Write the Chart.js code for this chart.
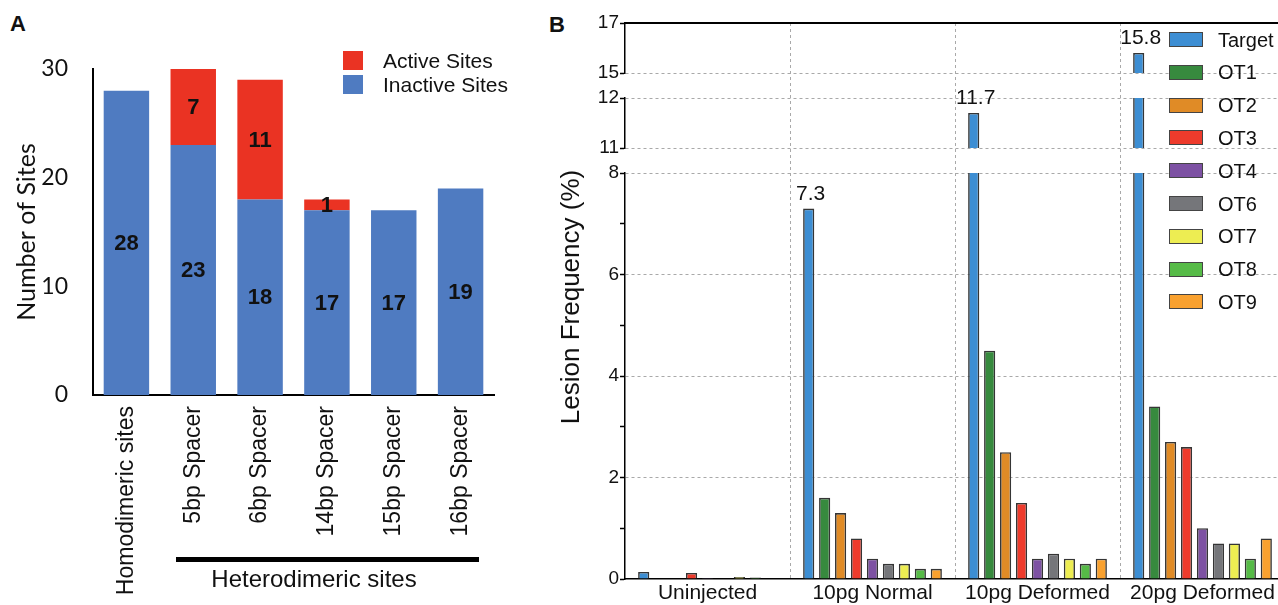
<!DOCTYPE html>
<html>
<head>
<meta charset="utf-8">
<title>Sites and lesion frequency</title>
<script src="https://cdn.jsdelivr.net/npm/chart.js@4.4.1/dist/chart.umd.min.js"></script>
<style>
  html, body { margin: 0; padding: 0; background: #fff; overflow: hidden; }
  body { width: 1278px; height: 605px; position: relative; font-family: "Liberation Sans", Arial, sans-serif; color: #111; }
  canvas { position: absolute; top: 0; }
  .panel-label { position: absolute; font-weight: bold; font-size: 22px; line-height: 22px; }
  .legend-row { position: absolute; height: 24px; line-height: 24px; white-space: nowrap; }
  .legend-box { position: absolute; box-sizing: border-box; }
  #hetBar { position: absolute; left: 176px; top: 557px; width: 303px; height: 5px; background: #000; }
  #hetLabel { position: absolute; left: 164px; top: 567px; width: 300px; text-align: center; font-size: 24px; line-height: 24px; }
  #lesionTitle { position: absolute; left: 420px; top: 282px; width: 300px; text-align: center; font-size: 26px; line-height: 30px; transform: rotate(-90deg); white-space: nowrap; }
</style>
</head>
<body>
<div class="panel-label" style="left:10px;top:13px">A</div>
<div class="panel-label" style="left:549px;top:14px">B</div>

<canvas id="sitesChart" width="540" height="605" style="left:0"></canvas>
<div id="sitesLegend"></div>
<div id="hetBar"></div>
<div id="hetLabel">Heterodimeric sites</div>

<canvas id="lesionLower" width="745" height="605" style="left:540px"></canvas>
<canvas id="lesionMiddle" width="745" height="605" style="left:540px"></canvas>
<canvas id="lesionUpper" width="745" height="605" style="left:540px"></canvas>
<div id="lesionTitle">Lesion Frequency (%)</div>
<div id="lesionLegend"></div>

<script>
// ---- panel A data ----
const siteCategories = ['Homodimeric sites', '5bp Spacer', '6bp Spacer', '14bp Spacer', '15bp Spacer', '16bp Spacer'];
const inactiveSites = [28, 23, 18, 17, 17, 19];
const activeSites = [0, 7, 11, 1, 0, 0];
const siteTicks = [0, 10, 20, 30];

// ---- panel B data ----
const lesionGroups = ['Uninjected', '10pg Normal', '10pg Deformed', '20pg Deformed'];
const seriesNames = ['Target', 'OT1', 'OT2', 'OT3', 'OT4', 'OT6', 'OT7', 'OT8', 'OT9'];
const targetFreq = [0.14, 7.3, 11.7, 15.8];
const ot1Freq = [0, 1.6, 4.5, 3.4];
const ot2Freq = [0, 1.3, 2.5, 2.7];
const ot3Freq = [0.12, 0.8, 1.5, 2.6];
const ot4Freq = [0.02, 0.4, 0.4, 1.0];
const ot6Freq = [0, 0.3, 0.5, 0.7];
const ot7Freq = [0.04, 0.3, 0.4, 0.7];
const ot8Freq = [0.03, 0.2, 0.3, 0.4];
const ot9Freq = [0, 0.2, 0.4, 0.8];
const seriesColors = ['#3d8ed3', '#378a3e', '#e08b26', '#ee3b2c', '#7d51a3', '#75767a', '#eded52', '#56bb47', '#f9a12f'];

// broken y axis: labelled ticks of the three pieces
const lowerTicks = [0, 2, 4, 6, 8];
const middleTicks = [11, 12];
const upperTicks = [15, 17];

const allSeries = [targetFreq, ot1Freq, ot2Freq, ot3Freq, ot4Freq, ot6Freq, ot7Freq, ot8Freq, ot9Freq];
const labelFrom = 5; // only the big target bars get a number on top
const sans = '"Liberation Sans", Arial, sans-serif';

// ================= Panel A =================
const segmentLabels = {
  id: 'segmentLabels',
  afterDatasetsDraw(chart) {
    const ctx = chart.ctx;
    ctx.save();
    ctx.font = 'bold 22px ' + sans;
    ctx.fillStyle = '#111';
    ctx.textAlign = 'center';
    ctx.textBaseline = 'middle';
    chart.data.datasets.forEach((ds, di) => {
      chart.getDatasetMeta(di).data.forEach((bar, i) => {
        const v = ds.data[i];
        if (!v) return;
        ctx.fillText(String(v), bar.x, (bar.y + bar.base) / 2 + 1);
      });
    });
    ctx.restore();
  }
};

new Chart(document.getElementById('sitesChart'), {
  type: 'bar',
  data: {
    labels: siteCategories,
    datasets: [
      { label: 'Inactive Sites', data: inactiveSites, backgroundColor: '#4f7bc1', borderWidth: 0 },
      { label: 'Active Sites', data: activeSites, backgroundColor: '#ea3323', borderWidth: 0 }
    ]
  },
  options: {
    responsive: false,
    animation: false,
    layout: { autoPadding: false, padding: { left: 0, top: 69, right: 46, bottom: 0 } },
    datasets: { bar: { categoryPercentage: 1.0, barPercentage: 0.68 } },
    plugins: { legend: { display: false }, tooltip: { enabled: false } },
    scales: {
      x: {
        stacked: true,
        offset: true,
        grid: { display: false, drawTicks: false, tickLength: 0 },
        border: { color: '#000', width: 2 },
        ticks: { color: '#111', font: { family: sans, size: 23 }, minRotation: 90, maxRotation: 90, padding: 11, autoSkip: false },
        afterFit: s => { s.height = 210; }
      },
      y: {
        stacked: true,
        min: siteTicks[0],
        max: siteTicks[siteTicks.length - 1],
        afterBuildTicks: s => { s.ticks = siteTicks.map(v => ({ value: v })); },
        grid: { display: false, drawTicks: false, tickLength: 0 },
        border: { color: '#000', width: 2 },
        ticks: { color: '#111', font: { family: 'Lato', size: 23 }, padding: 25 },
        title: { display: true, text: 'Number of Sites', color: '#111', font: { family: 'Lato', size: 25 }, padding: { top: 12, bottom: 0 } },
        afterFit: s => { s.width = 93; }
      }
    }
  },
  plugins: [segmentLabels]
});

// legend for panel A (Active first, like the figure)
const sitesLegend = document.getElementById('sitesLegend');
[['Active Sites', '#ea3323', 51], ['Inactive Sites', '#4f7bc1', 75]].forEach(([name, color, top]) => {
  const box = document.createElement('div');
  box.className = 'legend-box';
  box.style.cssText = `left:343px;top:${top}px;width:20px;height:19px;background:${color}`;
  sitesLegend.appendChild(box);
  const txt = document.createElement('div');
  txt.className = 'legend-row';
  txt.style.cssText = `left:383px;top:${top - 2}px;font-size:21px`;
  txt.textContent = name;
  sitesLegend.appendChild(txt);
});

// ================= Panel B =================
const frameTop = 23;

// dashed separators between groups, drawn over the whole broken axis height
const groupSeparators = {
  id: 'groupSeparators',
  beforeDatasetsDraw(chart) {
    const x = chart.scales.x;
    const ctx = chart.ctx;
    const n = lesionGroups.length;
    ctx.save();
    ctx.strokeStyle = '#a9a9a9';
    ctx.lineWidth = 1;
    ctx.setLineDash([3, 3]);
    for (let i = 1; i < n; i++) {
      const px = Math.round((x.getPixelForValue(i - 1) + x.getPixelForValue(i)) / 2) + 0.5;
      ctx.beginPath();
      ctx.moveTo(px, frameTop);
      ctx.lineTo(px, chart.chartArea.bottom);
      ctx.stroke();
    }
    ctx.restore();
  }
};

const targetValueLabels = {
  id: 'targetValueLabels',
  afterDatasetsDraw(chart) {
    const { min, max } = chart.scales.y;
    const meta = chart.getDatasetMeta(0);
    const ctx = chart.ctx;
    ctx.save();
    ctx.font = '21px ' + sans;
    ctx.fillStyle = '#111';
    ctx.textAlign = 'center';
    ctx.textBaseline = 'bottom';
    meta.data.forEach((bar, i) => {
      const v = targetFreq[i];
      if (v < labelFrom || v < min || v > max) return;
      ctx.fillText(v.toFixed(1), bar.x + 2, bar.y - 4);
    });
    ctx.restore();
  }
};

function lesionDatasets(floor) {
  return allSeries.map((vals, i) => ({
    label: seriesNames[i],
    data: vals.map(v => (v >= floor ? v : null)),
    backgroundColor: seriesColors[i],
    borderColor: '#353535',
    borderWidth: 1.6,
    borderSkipped: 'start',
    clip: 0,
    categoryPercentage: 0.87,
    barPercentage: 0.7
  }));
}

function makeSegment(canvasId, seg) {
  const lo = seg.ticks[0];
  const hi = seg.ticks[seg.ticks.length - 1];
  let tickValues = seg.ticks;
  if (seg.minor) {
    tickValues = [];
    for (let v = lo; v <= hi; v++) tickValues.push(v);
  }
  const xHeight = seg.axis === 'bottom' ? 26 : 0;
  const xScale = seg.axis === 'bottom'
    ? {
        offset: true,
        grid: { display: false, drawTicks: false, tickLength: 0 },
        border: { color: '#000', width: 1.5 },
        ticks: { color: '#111', font: { family: sans, size: 21 }, padding: 2, maxRotation: 0, autoSkip: false },
        afterFit: s => { s.height = xHeight; }
      }
    : seg.axis === 'top'
    ? {
        position: 'top',
        offset: true,
        grid: { display: false, drawTicks: false, tickLength: 0 },
        border: { color: '#000', width: 2 },
        ticks: { display: false },
        afterFit: s => { s.height = 0; }
      }
    : { display: false, offset: true };

  return new Chart(document.getElementById(canvasId), {
    type: 'bar',
    data: { labels: lesionGroups, datasets: lesionDatasets(lo) },
    options: {
      responsive: false,
      animation: false,
      layout: { autoPadding: false, padding: { left: 0, right: 0, top: seg.top, bottom: 605 - seg.bottom - xHeight } },
      plugins: { legend: { display: false }, tooltip: { enabled: false } },
      scales: {
        x: xScale,
        y: {
          min: lo,
          max: hi,
          afterBuildTicks: s => { s.ticks = tickValues.map(v => ({ value: v })); },
          ticks: {
            color: '#111',
            font: { family: sans, size: 19 },
            padding: 1,
            autoSkip: false,
            callback: v => (seg.ticks.includes(v) ? v : '')
          },
          grid: {
            lineWidth: 1,
            tickLength: 5,
            tickWidth: 1.5,
            tickColor: '#000',
            color: c => {
              const v = c.tick && c.tick.value;
              if (!seg.ticks.includes(v) || v === 0) return 'rgba(0,0,0,0)';
              if (seg.axis === 'top' && v === hi) return 'rgba(0,0,0,0)';
              return '#a9a9a9';
            }
          },
          border: { color: '#000', width: 1.5, dash: [3, 3] },
          afterFit: s => { s.width = 85; }
        }
      }
    },
    plugins: seg.axis === 'bottom' ? [groupSeparators, targetValueLabels] : [targetValueLabels]
  });
}

makeSegment('lesionLower', { ticks: lowerTicks, minor: true, top: 173, bottom: 579, axis: 'bottom' });
makeSegment('lesionMiddle', { ticks: middleTicks, top: 98, bottom: 148, axis: 'none' });
makeSegment('lesionUpper', { ticks: upperTicks, top: frameTop, bottom: 73, axis: 'top' });

// legend for panel B
const lesionLegend = document.getElementById('lesionLegend');
seriesNames.forEach((name, i) => {
  const cy = 39.5 + i * 32.8;
  const box = document.createElement('div');
  box.className = 'legend-box';
  box.style.cssText = `left:1169px;top:${cy - 7.5}px;width:34px;height:15px;background:${seriesColors[i]};border:1.5px solid #444`;
  lesionLegend.appendChild(box);
  const txt = document.createElement('div');
  txt.className = 'legend-row';
  txt.style.cssText = `left:1218px;top:${cy - 12}px;font-size:20px`;
  txt.textContent = name;
  lesionLegend.appendChild(txt);
});
</script>
</body>
</html>
